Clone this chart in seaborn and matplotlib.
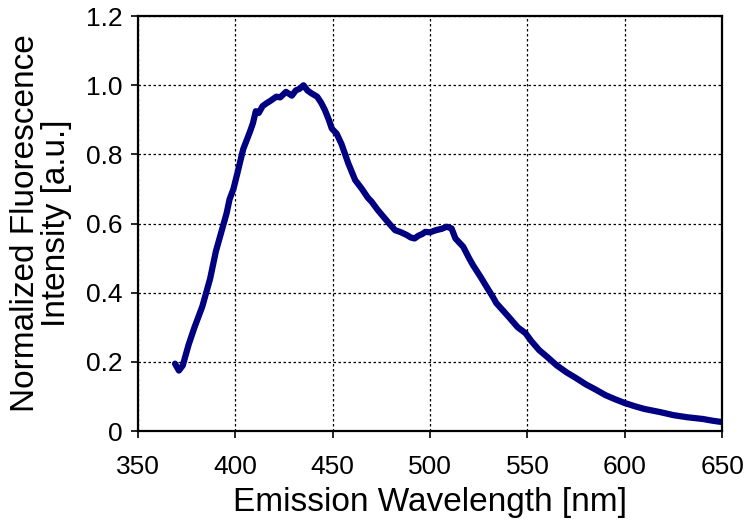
import matplotlib
matplotlib.use("Agg")
import matplotlib.pyplot as plt
import seaborn as sns
import pandas as pd

wavelength = [369, 371, 373, 376, 379, 383, 387, 390, 393, 395.5, 397, 399, 401, 404,
              407.5, 409, 410.5, 412, 414, 416, 418, 421, 423, 426, 429, 431, 433, 435,
              437, 439, 442, 444, 446, 448, 449.5, 452, 454.5, 458, 461.5, 465, 468, 470,
              473, 476, 479, 482, 485, 488, 490, 492, 494, 496, 497.5, 500, 503, 506,
              508.5, 511, 513, 515, 517, 520, 522, 526, 529, 532, 534, 538, 541, 545,
              549, 552, 556, 560, 565, 570, 575, 580, 585, 590, 595, 600, 605, 610, 618,
              625, 632, 640, 645, 650]
intensity = [0.195, 0.175, 0.19, 0.25, 0.30, 0.36, 0.44, 0.52, 0.58, 0.63, 0.67, 0.70,
             0.745, 0.815, 0.866, 0.89, 0.925, 0.92, 0.94, 0.948, 0.955, 0.967, 0.965,
             0.981, 0.97, 0.985, 0.99, 1.0, 0.985, 0.977, 0.967, 0.95, 0.928, 0.90, 0.875,
             0.86, 0.83, 0.774, 0.726, 0.70, 0.675, 0.663, 0.64, 0.62, 0.60, 0.581, 0.575,
             0.567, 0.56, 0.557, 0.565, 0.57, 0.576, 0.575, 0.581, 0.585, 0.591, 0.586,
             0.557, 0.545, 0.533, 0.50, 0.48, 0.445, 0.417, 0.39, 0.37, 0.345, 0.326,
             0.30, 0.283, 0.26, 0.234, 0.215, 0.19, 0.17, 0.153, 0.135, 0.12, 0.104,
             0.092, 0.081, 0.072, 0.064, 0.055, 0.046, 0.04, 0.035, 0.03, 0.026]

x_ticks = [350, 400, 450, 500, 550, 600, 650]
y_ticks = [0, 0.2, 0.4, 0.6, 0.8, 1.0, 1.2]
y_tick_labels = ["0", "0.2", "0.4", "0.6", "0.8", "1.0", "1.2"]

df = pd.DataFrame({"wl": wavelength, "inten": intensity})

sns.set_style("ticks")
plt.rcParams["font.family"] = ["Liberation Sans", "DejaVu Sans"]

fig, ax = plt.subplots(figsize=(7.5, 5.2), dpi=100)
fig.subplots_adjust(left=0.184, right=0.963, top=0.969, bottom=0.171)

sns.lineplot(data=df, x="wl", y="inten", color="#000080", linewidth=4.5, ax=ax,
             solid_capstyle="round", solid_joinstyle="round")

ax.set_xlim(350, 650)
ax.set_ylim(0, 1.2)
ax.set_xticks(x_ticks)
ax.set_yticks(y_ticks)
ax.set_yticklabels(y_tick_labels)
ax.tick_params(labelsize=19, length=5, width=1.2, colors="black", labelcolor="black")
ax.tick_params(axis="x", pad=12)
ax.tick_params(axis="y", pad=6)

ax.grid(True, color="black", linestyle=(0, (2, 2)), linewidth=0.9)
for s in ax.spines.values():
    s.set_linewidth(1.6)
    s.set_color("black")

ax.set_xlabel("Emission Wavelength [nm]", fontsize=24, labelpad=6, color="black")
ax.set_ylabel("Normalized Fluorescence\nIntensity [a.u.]", fontsize=24, labelpad=10,
              linespacing=1.0, color="black")

plt.savefig("out.png")
